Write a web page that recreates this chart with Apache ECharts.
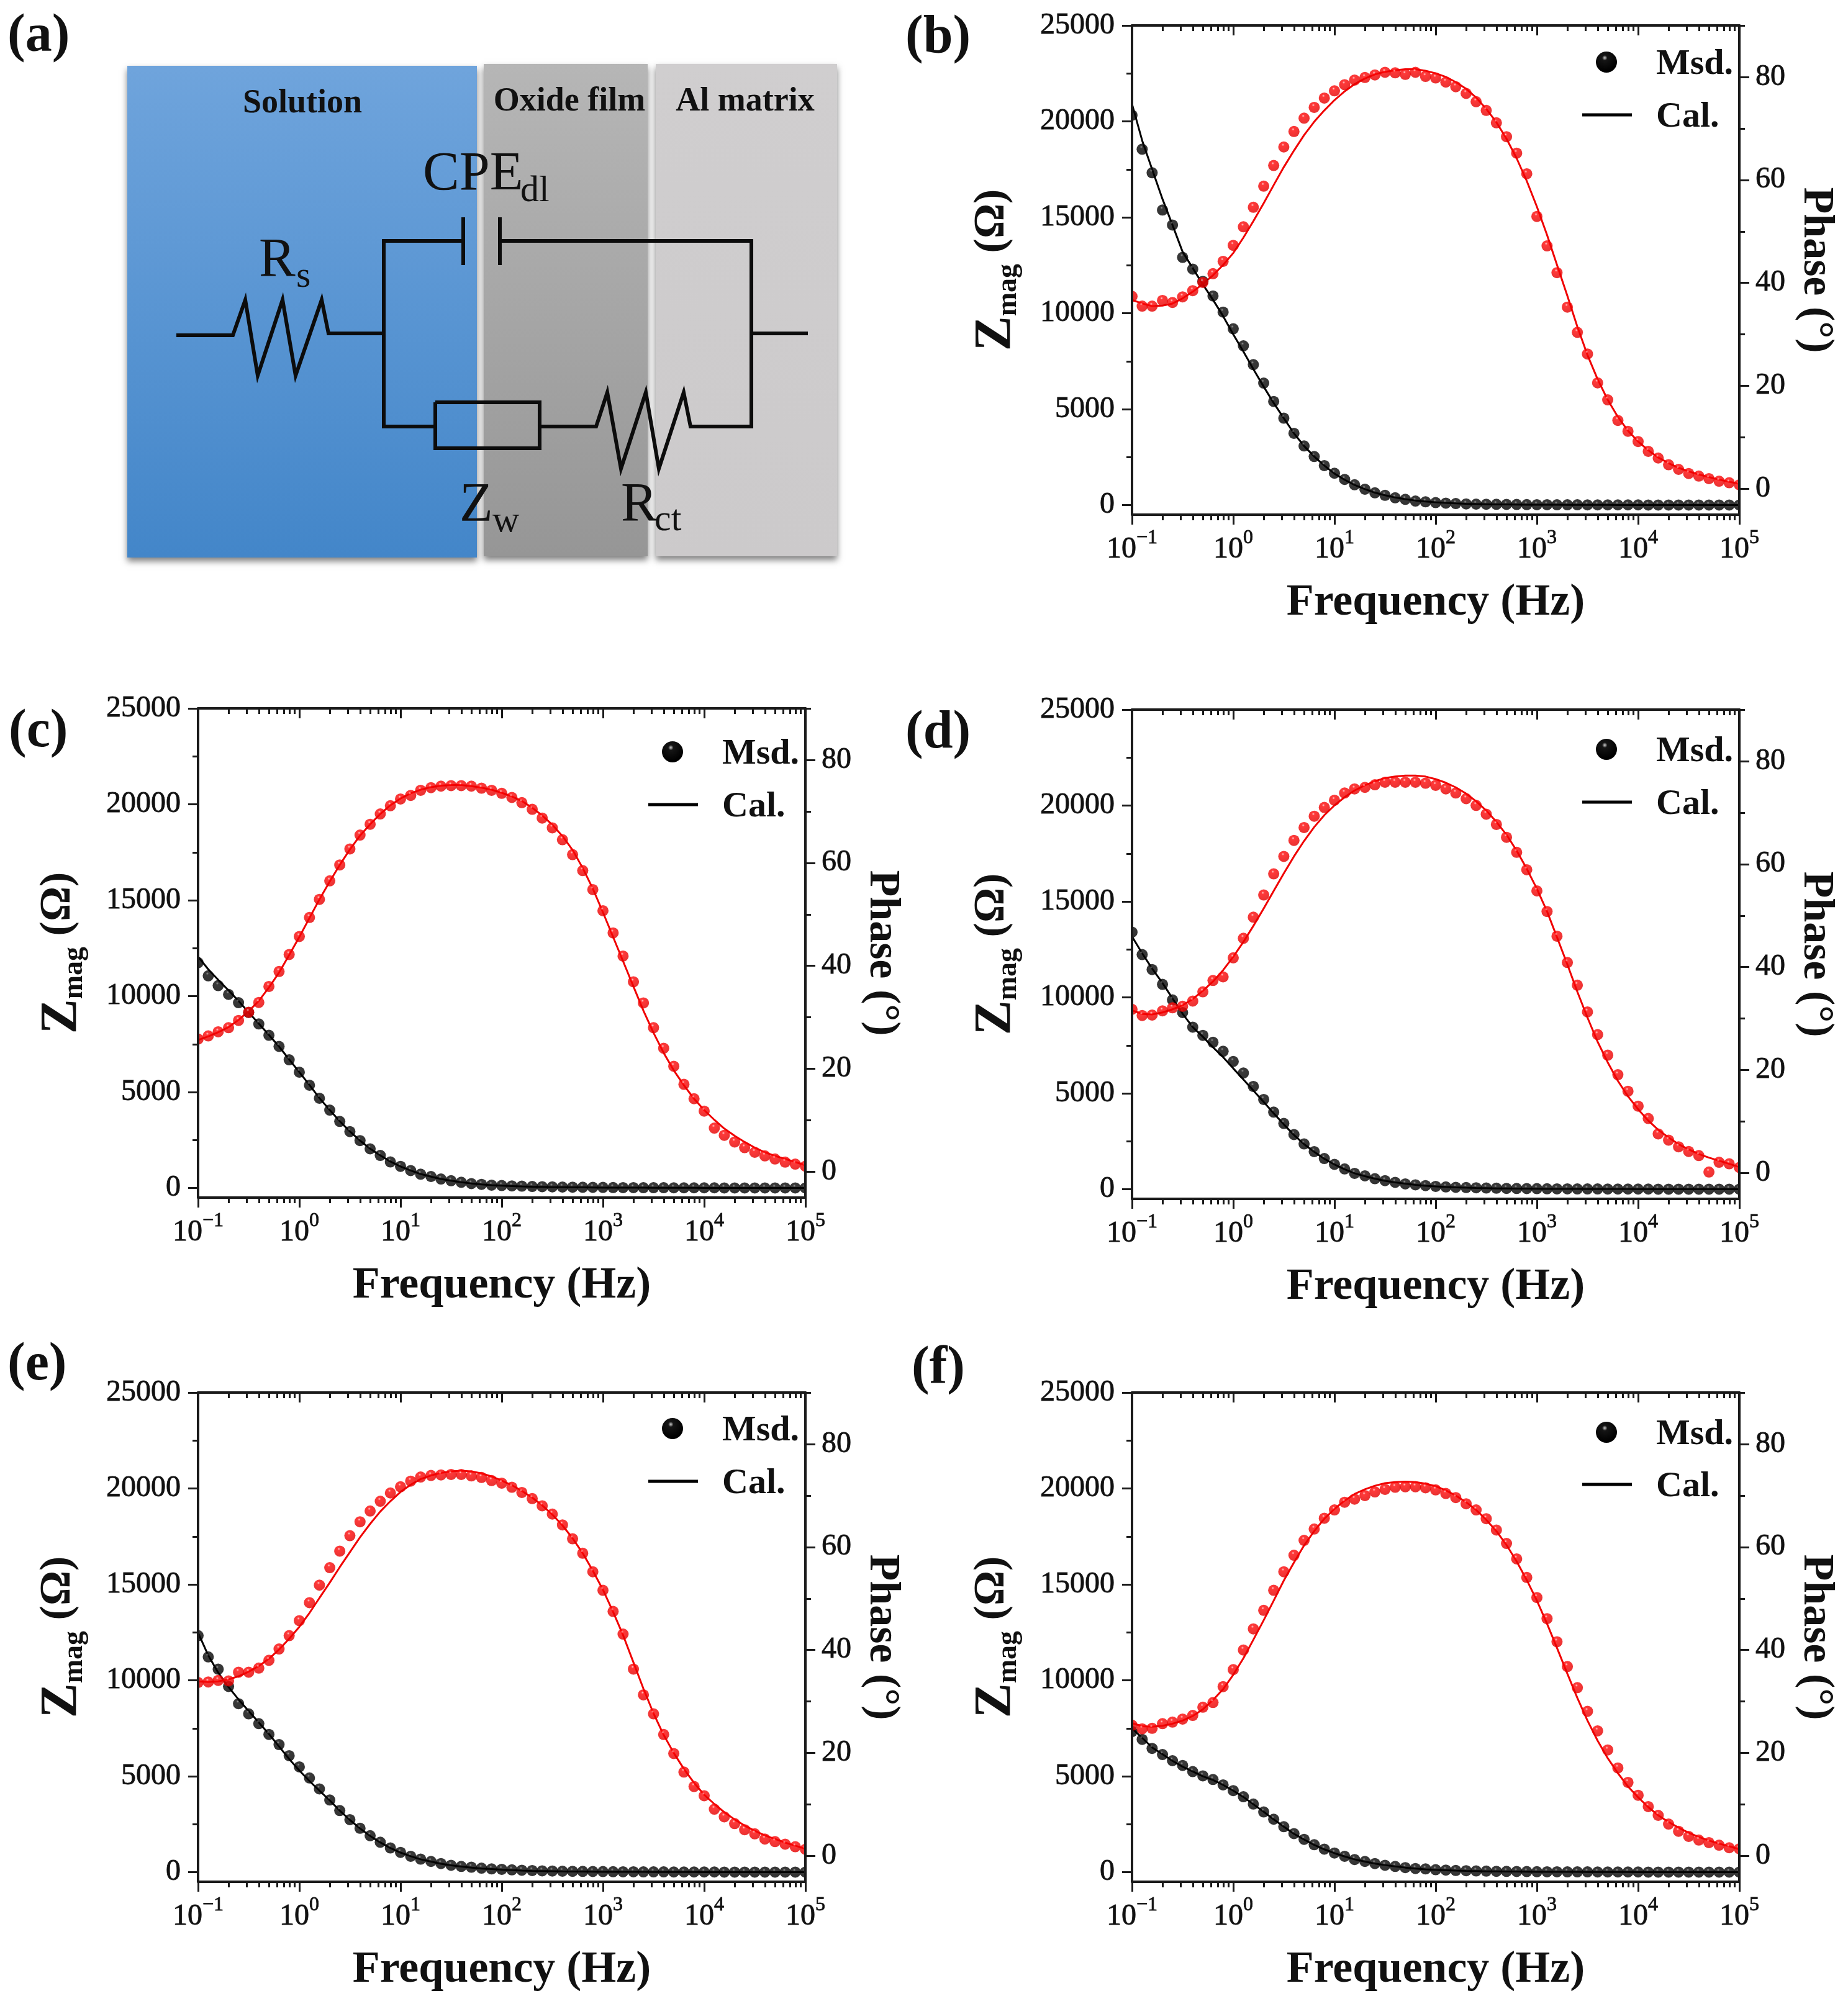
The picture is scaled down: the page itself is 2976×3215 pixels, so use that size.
<!DOCTYPE html>
<html>
<head>
<meta charset="utf-8">
<style>
    html, body { margin: 0; padding: 0; background: #fff; }
    #main { width: 2976px; height: 3215px; }
</style>
<script src="https://cdn.jsdelivr.net/npm/echarts@6/dist/echarts.min.js"></script>
</head>
<body>
<div id="main"></div>
<script>
//频率点 (Hz)
const freq = [
    0.1, 0.126, 0.158, 0.2, 0.251, 0.316, 0.398, 0.501, 0.631, 0.794,
    1, 1.26, 1.58, 2, 2.51, 3.16, 3.98, 5.01, 6.31, 7.94,
    10, 12.6, 15.8, 20, 25.1, 31.6, 39.8, 50.1, 63.1, 79.4,
    100, 126, 158, 200, 251, 316, 398, 501, 631, 794,
    1000, 1260, 1580, 2000, 2510, 3160, 3980, 5010, 6310, 7940,
    10000, 12600, 15800, 20000, 25100, 31600, 39800, 50100, 63100, 79400,
    100000
]
//刻度
const xMajor = [0.1, 1, 10, 100, 1000, 10000, 100000]
const xExps = ['−1', '0', '1', '2', '3', '4', '5']
const xMinor = [
    0.2, 0.3, 0.4, 0.5, 0.6, 0.7, 0.8, 0.9,
    2, 3, 4, 5, 6, 7, 8, 9,
    20, 30, 40, 50, 60, 70, 80, 90,
    200, 300, 400, 500, 600, 700, 800, 900,
    2000, 3000, 4000, 5000, 6000, 7000, 8000, 9000,
    20000, 30000, 40000, 50000, 60000, 70000, 80000, 90000
]
const zTicks = [0, 5000, 10000, 15000, 20000, 25000]
const zMinor = [2500, 7500, 12500, 17500, 22500]
const phaseTicks = [0, 20, 40, 60, 80]
const phaseMinor = [10, 30, 50, 70, 90]

//(b)
const zmagMsdB = [
    20320, 18550, 17320, 15380, 14600, 12910, 12300, 11660, 10900, 10060,
    9190, 8300, 7320, 6360, 5400, 4530, 3740, 3080, 2530, 2060,
    1660, 1340, 1060, 830, 640, 510, 380, 300, 210, 170,
    130, 100, 80, 60, 50, 45, 40, 35, 30, 25,
    20, 20, 15, 15, 15, 10, 10, 10, 10, 10,
    10, 5, 5, 5, 5, 5, 5, 5, 5, 5,
    5
]
const zmagCalB = [
    20900, 19000, 17500, 15950, 14600, 13200, 12350, 11500, 10700, 9850,
    8900, 8000, 7090, 6170, 5320, 4530, 3740, 3080, 2530, 2060,
    1640, 1320, 1050, 830, 650, 510, 400, 310, 240, 190,
    150, 115, 90, 70, 55, 45, 35, 30, 25, 20,
    20, 15, 15, 10, 10, 10, 10, 10, 5, 5,
    5, 5, 5, 5, 5, 5, 5, 5, 5, 5,
    5
]
const phaseMsdB = [
    37.4, 35.5, 35.5, 36.6, 36.2, 37.3, 38.5, 40.1, 41.8, 44.2,
    47.3, 50.9, 54.7, 58.8, 62.8, 66.4, 69.4, 72.0, 74.1, 75.9,
    77.3, 78.5, 79.4, 79.9, 80.4, 80.9, 80.8, 80.5, 80.9, 80.1,
    79.8, 79.0, 78.1, 76.8, 75.2, 73.5, 71.1, 68.4, 65.2, 61.2,
    52.9, 47.2, 42.0, 35.3, 30.4, 26.2, 20.6, 17.3, 13.3, 11.2,
    9.2, 7.3, 6.0, 4.7, 3.8, 3.0, 2.5, 2.0, 1.5, 1.2,
    0.8
]
const phaseCalB = [
    36.7, 36.0, 35.5, 35.6, 36.0, 37.0, 38.3, 39.8, 41.5, 43.5,
    45.8, 48.8, 52.0, 55.5, 59.0, 62.5, 65.7, 68.7, 71.3, 73.5,
    75.5, 77.2, 78.6, 79.7, 80.5, 81.0, 81.3, 81.5, 81.5, 81.2,
    80.7, 80.0, 79.0, 77.7, 76.0, 73.8, 71.2, 68.0, 64.2, 59.8,
    54.8, 49.3, 43.5, 37.5, 31.5, 26.0, 21.3, 17.3, 14.0, 11.3,
    9.2, 7.5, 6.1, 5.0, 4.1, 3.4, 2.8, 2.3, 1.8, 1.4,
    1.0
]

//(c)
const zmagMsdC = [
    11745, 11060, 10550, 10090, 9660, 9150, 8550, 7960, 7380, 6680,
    6040, 5360, 4680, 4060, 3470, 2940, 2470, 2040, 1700, 1360,
    1130, 910, 720, 600, 470, 380, 300, 230, 190, 150,
    130, 110, 95, 80, 70, 60, 50, 45, 40, 35,
    30, 25, 20, 20, 15, 15, 15, 10, 10, 10,
    10, 10, 5, 5, 5, 5, 5, 5, 5, 5,
    5
]
const zmagCalC = [
    12060, 11400, 10850, 10300, 9750, 9150, 8570, 7980, 7370, 6700,
    6040, 5370, 4690, 4060, 3480, 2950, 2470, 2050, 1700, 1380,
    1120, 910, 730, 590, 470, 380, 300, 240, 190, 150,
    120, 100, 80, 65, 55, 45, 40, 35, 30, 25,
    20, 20, 15, 15, 15, 10, 10, 10, 10, 10,
    5, 5, 5, 5, 5, 5, 5, 5, 5, 5,
    5
]
const phaseMsdC = [
    25.8, 26.4, 27.2, 28.0, 29.4, 31.0, 32.9, 36.0, 38.9, 42.2,
    45.7, 49.4, 52.9, 56.5, 59.6, 62.7, 65.4, 67.5, 69.5, 71.1,
    72.4, 73.1, 74.1, 74.6, 74.9, 75.0, 75.0, 74.9, 74.5, 74.1,
    73.5, 72.7, 71.7, 70.4, 68.7, 66.8, 64.5, 61.6, 58.5, 54.8,
    50.7, 46.4, 41.9, 36.9, 32.8, 28.0, 24.0, 20.5, 17.0, 14.2,
    11.8, 8.5, 7.1, 5.8, 4.7, 3.8, 3.1, 2.5, 1.9, 1.5,
    1.1
]
const phaseCalC = [
    25.6, 26.3, 27.1, 28.1, 29.5, 31.2, 33.2, 35.8, 38.7, 42.1,
    45.6, 49.3, 52.9, 56.4, 59.6, 62.6, 65.3, 67.5, 69.5, 71.2,
    72.5, 73.5, 74.2, 74.7, 75.0, 75.1, 75.1, 74.9, 74.6, 74.2,
    73.6, 72.9, 72.0, 70.7, 69.2, 67.4, 65.2, 62.5, 59.0, 55.0,
    50.4, 45.6, 40.9, 36.0, 31.3, 27.0, 23.1, 19.7, 16.8, 14.2,
    12.0, 10.1, 8.4, 7.0, 5.8, 4.7, 3.8, 3.1, 2.5, 1.9,
    1.3
]

//(d)
const zmagMsdD = [
    13400, 12230, 11450, 10680, 9870, 9210, 8450, 8020, 7660, 7190,
    6660, 6060, 5360, 4680, 4020, 3430, 2850, 2360, 1960, 1600,
    1300, 1060, 830, 700, 550, 450, 360, 280, 230, 190,
    150, 120, 100, 90, 75, 65, 55, 45, 40, 35,
    30, 25, 20, 20, 15, 15, 15, 10, 10, 10,
    10, 10, 5, 5, 5, 5, 5, 5, 5, 5,
    5
]
const zmagCalD = [
    13170, 12300, 11500, 10750, 9950, 9150, 8450, 7950, 7400, 6890,
    6300, 5720, 5150, 4550, 3960, 3380, 2830, 2350, 1950, 1590,
    1290, 1040, 830, 680, 550, 440, 360, 290, 230, 180,
    150, 120, 100, 80, 65, 55, 45, 40, 35, 30,
    25, 20, 20, 15, 15, 10, 10, 10, 10, 10,
    5, 5, 5, 5, 5, 5, 5, 5, 5, 5,
    5
]
const phaseMsdD = [
    31.8, 30.6, 30.7, 31.5, 32.1, 32.4, 33.4, 35.2, 37.4, 38.1,
    41.8, 45.6, 49.7, 54.0, 58.1, 61.5, 64.6, 67.1, 69.3, 71.0,
    72.4, 73.8, 74.6, 74.9, 75.4, 75.9, 75.9, 75.9, 75.9, 75.7,
    75.3, 74.6, 73.8, 72.7, 71.4, 69.7, 67.7, 65.2, 62.3, 58.9,
    54.8, 50.8, 46.0, 40.9, 36.5, 31.3, 26.9, 22.9, 19.1, 15.9,
    13.0, 10.6, 7.6, 6.4, 5.1, 4.2, 3.4, 0.2, 2.1, 1.8,
    1.1
]
const phaseCalD = [
    31.6, 30.9, 30.8, 31.2, 31.8, 32.6, 33.8, 35.4, 37.2, 39.4,
    42.0, 44.9, 48.0, 51.4, 54.8, 58.2, 61.5, 64.5, 67.2, 69.5,
    71.4, 73.0, 74.3, 75.3, 76.1, 76.7, 77.0, 77.2, 77.2, 77.0,
    76.5, 75.8, 74.9, 73.7, 72.2, 70.4, 68.2, 65.7, 62.6, 59.1,
    55.2, 50.8, 45.8, 40.5, 35.2, 30.2, 25.5, 21.5, 17.9, 14.9,
    12.4, 10.2, 8.4, 6.9, 5.6, 4.6, 3.7, 3.0, 2.4, 1.8,
    1.2
]

//(e)
const zmagMsdE = [
    12330, 11220, 10580, 9680, 8780, 8250, 7740, 7180, 6650, 6070,
    5490, 4910, 4340, 3760, 3210, 2740, 2290, 1900, 1560, 1260,
    1030, 830, 680, 560, 450, 360, 300, 260, 210, 170,
    150, 120, 100, 85, 70, 60, 50, 45, 40, 35,
    30, 25, 20, 20, 15, 15, 15, 10, 10, 10,
    10, 10, 5, 5, 5, 5, 5, 5, 5, 5,
    5
]
const zmagCalE = [
    12480, 11300, 10400, 9650, 9000, 8400, 7800, 7200, 6550, 5900,
    5300, 4750, 4250, 3740, 3210, 2720, 2280, 1890, 1550, 1260,
    1020, 830, 670, 550, 440, 360, 290, 240, 190, 160,
    130, 105, 85, 70, 60, 50, 40, 35, 30, 25,
    20, 20, 15, 15, 15, 10, 10, 10, 10, 10,
    5, 5, 5, 5, 5, 5, 5, 5, 5, 5,
    5
]
const phaseMsdE = [
    33.7, 33.8, 34.1, 34.0, 35.7, 35.7, 36.5, 38.0, 40.2, 42.8,
    45.7, 49.2, 52.6, 56.0, 59.2, 62.2, 64.9, 67.0, 68.9, 70.5,
    71.7, 72.8, 73.6, 73.9, 74.0, 74.1, 74.1, 73.8, 73.5, 72.9,
    72.4, 71.6, 70.6, 69.4, 68.0, 66.4, 64.3, 61.6, 58.8, 55.2,
    51.6, 47.5, 43.1, 36.3, 31.3, 27.6, 23.6, 19.9, 16.3, 13.5,
    11.7, 9.1, 7.6, 6.3, 5.1, 4.3, 3.3, 2.8, 2.3, 1.8,
    1.3
]
const phaseCalE = [
    33.9, 33.8, 33.9, 34.3, 34.9, 35.8, 36.9, 38.3, 40.1, 42.2,
    44.5, 47.2, 50.1, 53.1, 56.1, 59.0, 61.9, 64.5, 66.9, 68.9,
    70.7, 72.1, 73.2, 73.9, 74.4, 74.7, 74.8, 74.7, 74.3, 73.7,
    72.9, 72.0, 70.9, 69.6, 68.1, 66.3, 64.2, 61.7, 58.8, 55.4,
    51.7, 47.4, 42.9, 37.6, 32.5, 27.7, 23.5, 20.0, 16.9, 14.2,
    11.9, 10.1, 8.5, 7.1, 5.9, 4.9, 4.0, 3.3, 2.6, 2.0,
    1.4
]

//(f)
const zmagMsdF = [
    7330, 6920, 6450, 6130, 5810, 5560, 5240, 5020, 4830, 4550,
    4250, 3930, 3550, 3140, 2760, 2370, 2010, 1710, 1430, 1200,
    1000, 830, 660, 560, 450, 360, 300, 240, 190, 170,
    130, 110, 90, 75, 65, 55, 45, 40, 35, 30,
    25, 20, 20, 15, 15, 15, 10, 10, 10, 10,
    10, 5, 5, 5, 5, 5, 5, 5, 5, 5,
    5
]
const zmagCalF = [
    7500, 7000, 6500, 6150, 5800, 5500, 5250, 5000, 4800, 4550,
    4250, 3920, 3540, 3150, 2750, 2370, 2000, 1700, 1420, 1190,
    990, 820, 670, 550, 450, 370, 300, 240, 190, 150,
    120, 100, 80, 65, 55, 45, 40, 35, 30, 25,
    20, 20, 15, 15, 15, 10, 10, 10, 10, 10,
    5, 5, 5, 5, 5, 5, 5, 5, 5, 5,
    5
]
const phaseMsdF = [
    25.4, 24.7, 24.8, 25.7, 26.0, 26.6, 27.3, 28.9, 29.8, 32.9,
    36.2, 40.0, 44.1, 47.7, 51.6, 55.2, 58.4, 61.3, 63.5, 65.6,
    67.2, 68.7, 69.3, 70.0, 70.7, 71.2, 71.6, 71.7, 71.7, 71.5,
    71.1, 70.4, 69.6, 68.4, 67.2, 65.5, 63.3, 60.7, 57.7, 54.1,
    50.2, 46.1, 41.6, 36.8, 32.7, 28.1, 24.3, 20.6, 17.1, 14.3,
    11.8, 9.6, 7.9, 6.2, 4.8, 3.8, 3.1, 2.6, 2.1, 1.6,
    1.4
]
const phaseCalF = [
    25.8, 25.2, 25.1, 25.3, 25.7, 26.3, 27.2, 28.5, 30.3, 32.4,
    35.2, 38.4, 42.0, 45.8, 49.6, 53.5, 57.0, 60.3, 63.1, 65.5,
    67.4, 69.0, 70.3, 71.2, 71.9, 72.4, 72.6, 72.7, 72.6, 72.3,
    71.8, 71.0, 70.0, 68.7, 67.2, 65.3, 63.1, 60.4, 57.2, 53.6,
    49.6, 45.1, 40.4, 35.4, 30.7, 26.3, 22.4, 19.0, 16.1, 13.5,
    11.4, 9.5, 7.9, 6.6, 5.5, 4.5, 3.7, 3.0, 2.4, 1.9,
    1.3
]

const FONT = '"Liberation Serif", serif'
const INK = '#1a1a1a'
const PLOT_W = 978
const PLOT_H = 788

const panels = [
    { left: 1823, top: 41, ball: 59, cal: 144, zm: zmagMsdB, zc: zmagCalB, pm: phaseMsdB, pc: phaseCalB },
    { left: 319, top: 1141, ball: 70, cal: 155, zm: zmagMsdC, zc: zmagCalC, pm: phaseMsdC, pc: phaseCalC },
    { left: 1823, top: 1143, ball: 64, cal: 149, zm: zmagMsdD, zc: zmagCalD, pm: phaseMsdD, pc: phaseCalD },
    { left: 319, top: 2243, ball: 58, cal: 143, zm: zmagMsdE, zc: zmagCalE, pm: phaseMsdE, pc: phaseCalE },
    { left: 1823, top: 2243, ball: 64, cal: 148, zm: zmagMsdF, zc: zmagCalF, pm: phaseMsdF, pc: phaseCalF }
]

const grids = []
const xAxes = []
const yAxes = []
const series = []
const graphics = []

function ballColor(mid, edge, glint) {
    return {
        type: 'radial', x: 0.42, y: 0.3, r: 0.62,
        colorStops: [
            { offset: 0, color: glint },
            { offset: 0.2, color: mid },
            { offset: 1, color: edge }
        ]
    }
}
const redBall = ballColor('#ff0808', '#e60000', '#ffc8c8')
const blackBall = ballColor('#080808', '#000000', '#808080')

function tickLine(length, inside) {
    return { show: true, length: length, inside: inside, lineStyle: { color: INK, width: 3 } }
}

//10^n 标签
function xLabel(value) {
    const i = xMajor.findIndex(t => Math.abs(t / value - 1) < 1e-6)
    return `{b|10}{s|${xExps[i]}}`
}

panels.forEach((p, n) => {
    grids.push({ left: p.left, top: p.top, width: PLOT_W, height: PLOT_H })

    //x轴: 底部(主,次) 顶部(主,次)
    const xBase = { type: 'log', logBase: 10, min: 0.1, max: 100000, gridIndex: n, z: 10, splitLine: { show: false } }
    const axisLine = { show: true, onZero: false, lineStyle: { color: INK, width: 4 } }
    const off = { show: false }
    const lineOff = { show: false, onZero: false }
    //加粗一点, 接近原图字重
    const heavy = { textBorderColor: '#111', textBorderWidth: 0.8 }
    xAxes.push({
        ...xBase, position: 'bottom', axisLine: axisLine,
        axisTick: { ...tickLine(16, false), customValues: xMajor },
        axisLabel: {
            customValues: xMajor, margin: 22, showMinLabel: true, showMaxLabel: true, hideOverlap: false,
            formatter: xLabel,
            rich: {
                b: { fontFamily: FONT, fontSize: 48, color: '#111', verticalAlign: 'bottom', lineHeight: 58, ...heavy },
                s: { fontFamily: FONT, fontSize: 32, color: '#111', verticalAlign: 'top', lineHeight: 36, ...heavy }
            }
        },
        name: 'Frequency (Hz)', nameLocation: 'middle', nameGap: 106,
        nameTextStyle: { fontFamily: FONT, fontSize: 72, fontWeight: 'bold', color: '#111' }
    })
    xAxes.push({ ...xBase, position: 'bottom', axisLine: lineOff, axisLabel: off, axisTick: { ...tickLine(9, false), customValues: xMinor } })
    xAxes.push({ ...xBase, position: 'top', axisLine: axisLine, axisLabel: off, axisTick: { ...tickLine(16, true), customValues: xMajor } })
    xAxes.push({ ...xBase, position: 'top', axisLine: lineOff, axisLabel: off, axisTick: { ...tickLine(9, true), customValues: xMinor } })

    //左轴 Zmag, 右轴 Phase
    const zBase = { type: 'value', min: -500, max: 25000, gridIndex: n, z: 10, splitLine: { show: false } }
    const pBase = { type: 'value', min: -5, max: 90, gridIndex: n, z: 10, splitLine: { show: false } }
    yAxes.push({
        ...zBase, position: 'left', axisLine: axisLine,
        axisTick: { ...tickLine(16, false), customValues: zTicks },
        axisLabel: {
            customValues: zTicks, margin: 28, padding: [0, 0, 12, 0],
            formatter: value => String(value),
            fontFamily: FONT, fontSize: 48, color: '#111', ...heavy
        },
        name: '{z|Z}{m|mag}{o| (Ω)}', nameLocation: 'middle', nameGap: 176, nameRotate: 90,
        nameTextStyle: {
            rich: {
                z: { fontFamily: FONT, fontSize: 84, fontWeight: 'bold', color: '#111', verticalAlign: 'top', lineHeight: 84 },
                m: { fontFamily: FONT, fontSize: 46, fontWeight: 'bold', color: '#111', verticalAlign: 'bottom', lineHeight: 46 },
                o: { fontFamily: FONT, fontSize: 70, fontWeight: 'bold', color: '#111', verticalAlign: 'top', lineHeight: 76 }
            }
        }
    })
    yAxes.push({ ...zBase, position: 'left', axisLine: lineOff, axisLabel: off, axisTick: { ...tickLine(9, false), customValues: zMinor } })
    yAxes.push({
        ...pBase, position: 'right', axisLine: axisLine,
        axisTick: { ...tickLine(16, false), customValues: phaseTicks },
        axisLabel: {
            customValues: phaseTicks, margin: 26, padding: [0, 0, 10, 0],
            fontFamily: FONT, fontSize: 48, color: '#111', ...heavy
        },
        name: 'Phase (°)', nameLocation: 'middle', nameGap: 88, nameRotate: -90,
        nameTextStyle: { fontFamily: FONT, fontSize: 70, fontWeight: 'bold', color: '#111' }
    })
    yAxes.push({ ...pBase, position: 'right', axisLine: lineOff, axisLabel: off, axisTick: { ...tickLine(9, false), customValues: phaseMinor } })

    const xi = n * 4
    const yi = n * 4
    const pairs = (values) => freq.map((f, i) => [f, values[i]])
    const line = (name, y, values, color) => ({
        name: name, type: 'line', xAxisIndex: xi, yAxisIndex: y, data: pairs(values),
        showSymbol: false, clip: true, lineStyle: { color: color, width: 3 }, itemStyle: { color: color }, z: 3
    })
    const dots = (name, y, values, color) => ({
        name: name, type: 'scatter', xAxisIndex: xi, yAxisIndex: y, data: pairs(values),
        symbol: 'circle', symbolSize: 18, clip: true, itemStyle: { color: color }, z: 4
    })
    series.push(line('Cal.', yi, p.zc, '#000'))
    series.push(dots('Msd.', yi, p.zm, blackBall))
    series.push(line('Cal.', yi + 2, p.pc, '#f00000'))
    series.push(dots('Msd.', yi + 2, p.pm, redBall))

    //点在绘图区外的部分遮掉
    const mask = (x) => ({
        type: 'rect', z: 5, silent: true,
        shape: { x: x, y: p.top + 2, width: 12, height: PLOT_H - 4 },
        style: { fill: '#fff' }
    })
    graphics.push(mask(p.left - 12), mask(p.left + PLOT_W))

    //图例
    const legendText = (text, y) => ({
        type: 'text', z: 20, x: p.left + 844, y: y + 4,
        style: { text: text, font: `bold 58px ${FONT}`, fill: '#111', textAlign: 'left', textVerticalAlign: 'middle' }
    })
    graphics.push(
        { type: 'circle', z: 20, shape: { cx: p.left + 764, cy: p.top + p.ball, r: 17 }, style: { fill: ballColor('#151515', '#000', '#d0d0d0') } },
        { type: 'line', z: 20, shape: { x1: p.left + 725, y1: p.top + p.cal, x2: p.left + 805, y2: p.top + p.cal }, style: { stroke: '#000', lineWidth: 5 } },
        legendText('Msd.', p.top + p.ball),
        legendText('Cal.', p.top + p.cal)
    )
})

//分图标号
function panelLabel(text, x, y) {
    graphics.push({
        type: 'text', z: 20, x: x, y: y,
        style: { text: text, font: `bold 86px ${FONT}`, fill: '#111', textAlign: 'left', textVerticalAlign: 'middle' }
    })
}
panelLabel('(a)', 12, 60)
panelLabel('(b)', 1458, 62)
panelLabel('(c)', 14, 1180)
panelLabel('(d)', 1458, 1182)
panelLabel('(e)', 12, 2200)
panelLabel('(f)', 1468, 2206)

//(a) 等效电路
function layer(x, w, y, h, top, bottom) {
    graphics.push({
        type: 'rect', z: 1,
        shape: { x: x, y: y, width: w, height: h },
        style: {
            fill: { type: 'linear', x: 0, y: 0, x2: 0, y2: 1, colorStops: [{ offset: 0, color: top }, { offset: 1, color: bottom }] },
            shadowBlur: 10, shadowOffsetY: 6, shadowColor: 'rgba(0,0,0,0.5)'
        }
    })
}
layer(205, 563, 106, 792, '#6fa4dc', '#4386c9')
layer(779, 264, 103, 793, '#b6b6b6', '#969696')
layer(1056, 292, 103, 793, '#d0cecf', '#cccacb')

function wire(points, width) {
    graphics.push({
        type: 'polyline', z: 2,
        shape: { points: points },
        style: { stroke: '#0c0c0c', lineWidth: width || 6, fill: null, lineJoin: 'miter' }
    })
}
wire([[284, 540], [375, 540], [395, 483], [415, 605], [455, 483], [476, 605], [518, 483], [529, 537], [618, 537]])
wire([[746, 388], [618, 388], [618, 687], [701, 687]])
wire([[746, 350], [746, 427]])
wire([[805, 350], [805, 427]])
wire([[805, 388], [1210, 388], [1210, 687], [1112, 687], [1101, 632], [1061, 755], [1040, 632], [1000, 755], [978, 632], [960, 687], [869, 687]])
wire([[1210, 537], [1301, 537]])
wire([[701, 648], [869, 648], [869, 722], [701, 722], [701, 648]])

function circuitText(text, x, y, size) {
    graphics.push({
        type: 'text', z: 3, x: x, y: y,
        style: { text: text, font: `${size}px ${FONT}`, fill: '#111', textAlign: 'left', textVerticalAlign: 'middle' }
    })
}
function regionText(text, x, y) {
    graphics.push({
        type: 'text', z: 3, x: x, y: y,
        style: { text: text, font: `bold 54px ${FONT}`, fill: '#111', textAlign: 'center', textVerticalAlign: 'middle' }
    })
}
regionText('Solution', 487, 167)
regionText('Oxide film', 917, 164)
regionText('Al matrix', 1200, 164)
circuitText('CPE', 681, 282, 88)
circuitText('dl', 838, 308, 60)
circuitText('R', 417, 421, 88)
circuitText('s', 477, 446, 60)
circuitText('Z', 740, 815, 88)
circuitText('w', 793, 840, 60)
circuitText('R', 1000, 815, 88)
circuitText('ct', 1054, 838, 60)

const chart = echarts.init(document.getElementById('main'), null, { renderer: 'canvas' })
chart.setOption({
    backgroundColor: '#fff',
    animation: false,
    grid: grids,
    xAxis: xAxes,
    yAxis: yAxes,
    series: series,
    graphic: { elements: graphics }
})
</script>
</body>
</html>
